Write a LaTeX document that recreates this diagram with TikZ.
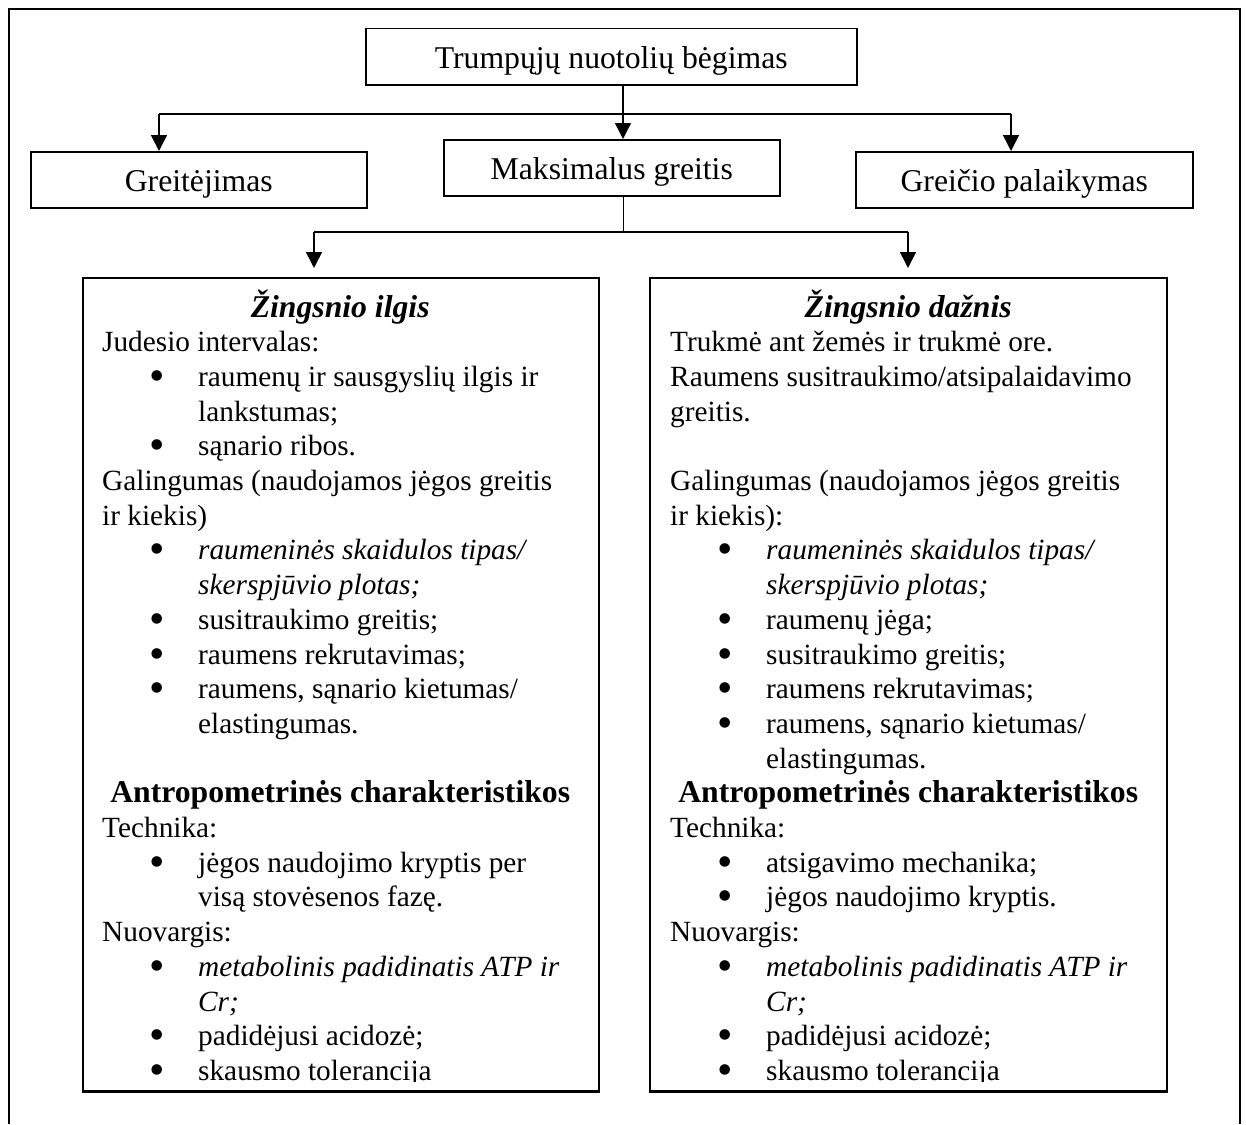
\documentclass[tikz,border=0pt]{standalone}
\usepackage{fontspec}
\setmainfont{Liberation Serif}
\usetikzlibrary{arrows.meta}
\newcommand{\bul}{\hspace*{47pt}\makebox[49pt][l]{\raisebox{-4pt}{\scalebox{1.5}{\textbullet}}}}
\newcommand{\cont}{\hspace*{96pt}}
\newcommand{\head}[1]{{\centering\fontsize{31.7}{34.7}\selectfont\mbox{#1}\par}}

\begin{document}
\begin{tikzpicture}[x=1pt,y=-1pt,
  topbox/.style={draw,line width=1.5pt,inner sep=0pt,text height=40pt,text depth=16pt,anchor=north west,font=\fontsize{31.7}{38}\selectfont},
  bigbox/.style={draw,line width=1.5pt,inner sep=0pt,minimum height=813pt,anchor=north west},
  boxtext/.style={inner sep=0pt,text width=476pt,align=flush left,anchor=base west,font=\fontsize{29.3}{34.7}\selectfont},
  arr/.style={line width=1.6pt,-{Triangle[width=16pt,length=16pt]}},
  link/.style={line width=1.6pt}]
\useasboundingbox (0,0) rectangle (1246,1124);
\draw[line width=2pt] (9,1124) -- (9,9) -- (1240,9) -- (1240,1124);

\node[topbox,minimum width=491pt] (run) at (365,28) {Trumpųjų nuotolių bėgimas};
\node[topbox,minimum width=336pt] (accel) at (30,151) {Greitėjimas};
\node[topbox,minimum width=336pt] (maxv) at (443,139) {Maksimalus greitis};
\node[topbox,minimum width=337pt] (hold) at (855,151) {Greičio palaikymas};
\node[bigbox,minimum width=516pt] (length) at (82,277) {};
\node[bigbox,minimum width=517pt] (freq) at (649,277) {};
\draw[line width=3pt] (length.south west) -- (length.south east);
\draw[line width=3pt] (freq.south west) -- (freq.south east);

\coordinate (fork) at (623,114);
\coordinate (forkL) at (159,114);
\coordinate (forkR) at (1011,114);
\draw[arr] (run.south -| fork) -- (maxv.north -| fork);
\draw[link] (forkL) -- (forkR);
\draw[arr] (forkL) -- (accel.north -| forkL);
\draw[arr] (forkR) -- (hold.north -| forkR);

\coordinate (split) at (623,232);
\coordinate (splitL) at (314,232);
\coordinate (splitR) at (908,232);
\draw[line width=1pt] (maxv.south -| split) -- (split);
\draw[link] (splitL) -- (splitR);
\draw[arr,shorten >=9pt] (splitL) -- (length.north -| splitL);
\draw[arr,shorten >=9pt] (splitR) -- (freq.north -| splitR);

\begin{scope}
\clip (82,277) rectangle (1166,1081);
\node[boxtext] (lengthtxt) at (102,317) {%
\head{\bfseries\itshape Žingsnio ilgis}
Judesio intervalas:\par
\bul raumenų ir sausgyslių ilgis ir\par
\cont lankstumas;\par
\bul sąnario ribos.\par
Galingumas (naudojamos jėgos greitis\par
ir kiekis)\par
\bul\textit{raumeninės skaidulos tipas/}\par
\cont\textit{skerspjūvio plotas;}\par
\bul susitraukimo greitis;\par
\bul raumens rekrutavimas;\par
\bul raumens, sąnario kietumas/\par
\cont elastingumas.\par
\mbox{}\par
\head{\bfseries Antropometrinės charakteristikos}
Technika:\par
\bul jėgos naudojimo kryptis per\par
\cont visą stovėsenos fazę.\par
Nuovargis:\par
\bul\textit{metabolinis padidinatis ATP ir}\par
\cont\textit{Cr;}\par
\bul padidėjusi acidozė;\par
\bul skausmo tolerancija\par};
\node[boxtext] (freqtxt) at (670,317) {%
\head{\bfseries\itshape Žingsnio dažnis}
Trukmė ant žemės ir trukmė ore.\par
Raumens susitraukimo/atsipalaidavimo\par
greitis.\par
\mbox{}\par
Galingumas (naudojamos jėgos greitis\par
ir kiekis):\par
\bul\textit{raumeninės skaidulos tipas/}\par
\cont\textit{skerspjūvio plotas;}\par
\bul raumenų jėga;\par
\bul susitraukimo greitis;\par
\bul raumens rekrutavimas;\par
\bul raumens, sąnario kietumas/\par
\cont elastingumas.\par
\head{\bfseries Antropometrinės charakteristikos}
Technika:\par
\bul atsigavimo mechanika;\par
\bul jėgos naudojimo kryptis.\par
Nuovargis:\par
\bul\textit{metabolinis padidinatis ATP ir}\par
\cont\textit{Cr;}\par
\bul padidėjusi acidozė;\par
\bul skausmo tolerancija\par};
\end{scope}
\end{tikzpicture}
\end{document}
